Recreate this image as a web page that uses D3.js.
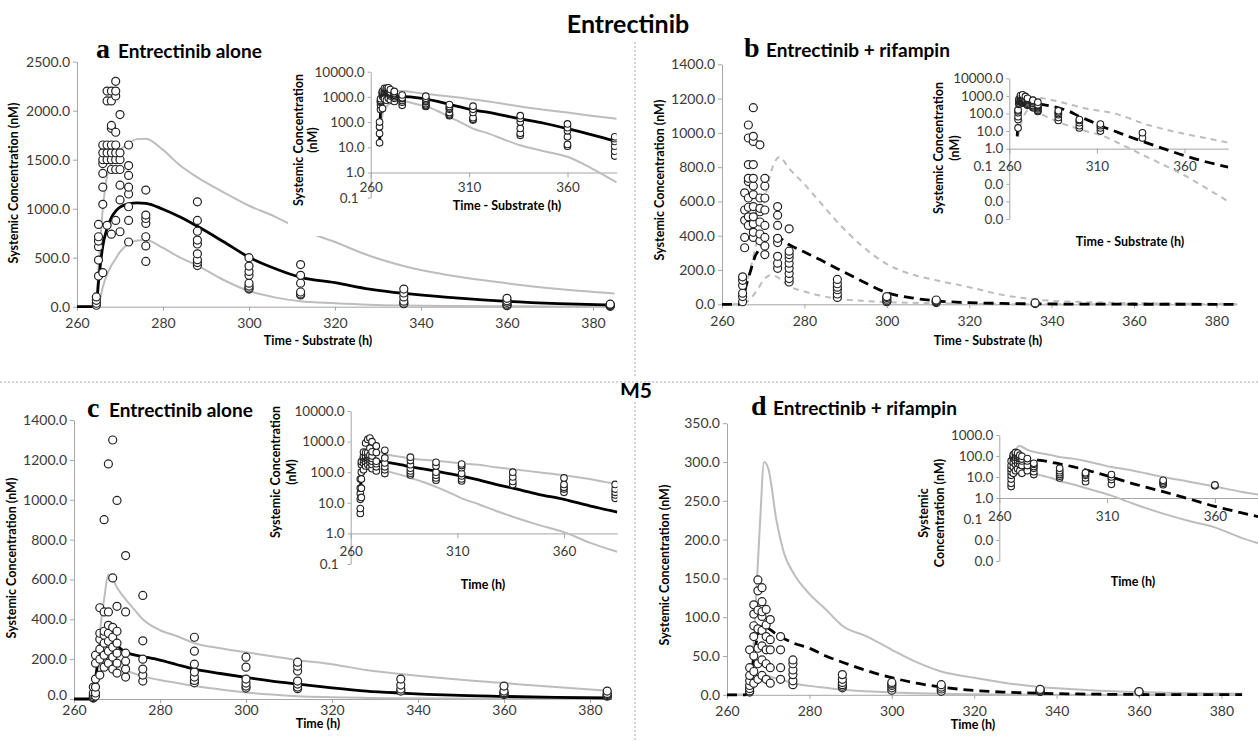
<!DOCTYPE html>
<html><head><meta charset="utf-8">
<script src="https://cdn.jsdelivr.net/npm/d3@7"></script>
<style>
body{margin:0;background:#fff}
text{font-family:Lato,"Open Sans",sans-serif}
</style></head><body>
<script>
// model time grid (h)
var modelTime = [260,264,264.5,265,266,267,268,269,270,272,274,276,280,284,288,294,300,306,312,320,328,336,348,360,372,385];

// a: entrectinib alone
var aCentral = [0,0,20,250,620,800,910,975,1015,1050,1060,1055,995,915,820,665,505,390,300,245,180,135,90,55,32,17];
var aUpper   = [0,0,60,400,1000,1330,1480,1560,1600,1670,1710,1715,1600,1440,1320,1170,1030,920,790,660,520,415,310,239,180,135];
var aLower   = [0,0,0,20,200,330,420,490,560,640,675,680,600,500,420,275,160,95,55,35,20,12,7,4.2,1.5,0.4];
var aObsTime = [264.5,265,266,267,268,269,270,272,276,288,300,312,336,360,384];
var aObsConc = [[15,35,65,100],[313,476,612,670,714,840],[347,1045,1220,1360,1460,1500,1570,1650],
  [830,1500,1570,1650,2100,2200],[740,1400,1500,1570,1650,1820,1850,2100,2200],[880,1400,1500,1570,1650,1780,2150,2200,2300],
  [765,1090,1240,1400,1500,1570,1960],[660,880,1020,1150,1220,1340,1440,1650],[462,620,714,850,900,935,1190],
  [420,450,480,540,640,680,770,880,1070],[180,190,210,240,320,360,415,500],[120,130,150,240,320,430],
  [30,36,56,100,140,180],[11,13,26,45,60,85],[4.5,7,11,17,22,26]];

// b: entrectinib + rifampin
var bCentral = [0,0,5,30,120,200,278,320,356,390,385,352,305,258,208,135,68,38,20,10,5,2.6,1.0,0.4,0.18,0.09];
var bUpper   = [0,0,15,60,130,215,320,420,560,780,860,800,700,590,480,340,235,175,140,100,55,28,13,7,4,2.2];
var bLower   = [0,0,0,5,15,35,65,100,140,170,150,110,75,50,32,20,13,8.5,6,2.7,1.1,0.45,0.12,0.03,0.006,0.001];
var bObsTime = [265,265.5,266.4,267.6,269.2,270.4,273.5,276.3,288,300,312,336];
var bObsConc = [[15,45,65,110,140,160],[330,390,490,550,650],[460,510,566,620,716,735,815,970,1046],
  [390,420,470,510,570,640,690,735,815,950,980,1147],[370,410,480,540,560,620,930],[290,340,390,460,550,620,690,735],
  [210,240,280,360,385,460,520,570],[130,150,180,210,240,270,290,310,440],[40,60,85,100,120,145],
  [15,20,30,40,45],[10,15,20,25],[4,8]];

// c: M5, entrectinib alone
var cCentral = [0,0,20,100,250,320,330,300,270,235,222,213,195,172,150,128,108,90,75,56,40,30,19,13,8,5];
var cUpper   = [0,0,0,60,330,500,625,600,560,500,450,400,345,315,280,255,235,215,195,175,145,125,100,80,60,40];
var cLower   = [0,0,0,30,120,190,210,190,170,145,128,115,95,80,65,48,33,22,14,9,5.5,3.5,1.9,1.1,0.5,0.25];
var cObsTime = [264.5,265,266,267,268,269,270,272,276,288,300,312,336,360,384];
var cObsConc = [[4.5,6.5,13,20,30,60],[15,30,60,100,180,220],[120,200,250,300,330,458],[160,220,280,320,340,437,900],
  [180,240,290,330,370,437,1180],[150,210,260,310,360,608,1300],[130,180,230,280,340,465,997],[110,150,190,230,437,720],
  [90,120,150,200,292,520],[81,93,110,135,175,240,310],[55,65,80,100,160,210],[52,60,75,90,140,165,185],
  [40,50,70,100],[22,28,32,40,65],[14,18,22,28,40]];

// d: M5, entrectinib + rifampin
var dCentral = [0,0,0,5,30,65,85,90,86,78,72,67,60,50,42,31,22,15,10,5.5,3.3,2,0.9,0.4,0.2,0.1];
var dUpper   = [0,0,0,0,30,120,220,300,292,225,180,158,130,110,89,75,58,42,30,22,15,10,6,3.5,2,1.2];
var dLower   = [0,0,0,0,5,15,22,25,24,21,18,15,11.5,9,6.5,4.5,3,2,1.3,0.65,0.33,0.18,0.08,0.04,0.013,0.005];
var dObsTime = [265.5,266.5,267.5,268.5,269.5,270.5,273,276,288,300,312,336,360];
var dObsConc = [[3.5,5,8,12,18,25,35,58],[15,30,50,75,89,104,116],[20,40,60,85,109,134,148],[25,45,63,83,101,107,120,138],
  [20,40,58,75,90,110],[15,35,58,71,97],[20,35,58,75],[13,18,26,32,40,45],[9,11,13,16,20,26],[6,9,12,14,16],
  [4.5,7.5,10,13],[4.3,5,6,7],[3.8,4.2]];

// tick values
var xTicks = [260,280,300,320,340,360,380];
var insetXTicks = [260,310,360];
var aYTicks = [0,500,1000,1500,2000,2500];
var bYTicks = [0,200,400,600,800,1000,1200,1400];
var cYTicks = [0,200,400,600,800,1000,1200,1400];
var dYTicks = [0,50,100,150,200,250,300,350];
var logTicks4 = [0.1,1,10,100,1000,10000];
var logTicksB = [0.0001,0.001,0.01,0.1,1,10,100,1000,10000];
var logTicksD = [0.001,0.01,0.1,1,10,100,1000];

var W = 1258, H = 741;
var svg = d3.select('body').append('svg').attr('width', W).attr('height', H);
var gray = '#bdbdbd', axisCol = '#a6a6a6', tickTxt = '#3a3a3a';

function series(vals){ return modelTime.map(function(t,i){ return {t:t, v:vals[i]}; }); }
function points(times, concs){
  var out = [];
  times.forEach(function(t,i){ concs[i].forEach(function(c){ out.push({t:t, v:c}); }); });
  return out;
}

// separators
svg.append('line').attr('x1',0).attr('x2',W).attr('y1',382).attr('y2',382)
  .attr('stroke','#aaa').attr('stroke-dasharray','2,2');
svg.append('line').attr('x1',635).attr('x2',635).attr('y1',42).attr('y2',378)
  .attr('stroke','#aaa').attr('stroke-dasharray','2,2');
svg.append('line').attr('x1',635).attr('x2',635).attr('y1',402).attr('y2',H)
  .attr('stroke','#aaa').attr('stroke-dasharray','2,2');

svg.append('text').attr('x',628).attr('y',33).attr('text-anchor','middle')
  .attr('font-size',25).attr('font-weight',700).text('Entrectinib');
svg.append('text').attr('x',636).attr('y',398).attr('text-anchor','middle')
  .attr('font-size',21).attr('font-weight',700).text('M5');

function styleAxis(g, fs){
  g.select('.domain').attr('stroke', axisCol);
  g.selectAll('.tick line').attr('stroke', axisCol);
  g.selectAll('.tick text').attr('fill', tickTxt).attr('font-size', fs).attr('font-family','Lato');
}

function drawLines(g, p, x, y, filt){
  var line = d3.line().x(function(d){ return x(d.t); }).y(function(d){ return y(d.v); })
    .curve(d3.curveMonotoneX);
  var sets = [[p.upper, gray, 2, p.grayDash], [p.lower, gray, 2, p.grayDash], [p.central, '#000', 2.8, p.dash]];
  sets.forEach(function(s){
    var data = series(s[0]);
    if (filt) data = data.filter(function(d){ return d.v > 0; });
    g.append('path').attr('d', line(data)).attr('fill','none')
      .attr('stroke', s[1]).attr('stroke-width', s[2])
      .attr('stroke-dasharray', s[3] ? (s[1] === '#000' ? '10,6' : '6,5') : null);
  });
}

function drawMain(p){
  var m = p.main;
  var x = d3.scaleLinear().domain([260,385]).range([m.x0, m.x1]);
  var y = d3.scaleLinear().domain([0, m.yMax]).range([m.y0, m.y1]);
  var g = svg.append('g');
  g.append('g').attr('transform','translate(0,'+m.y0+')')
    .call(d3.axisBottom(x).tickValues(xTicks).tickSize(4).tickSizeOuter(0).tickPadding(m.xPad).tickFormat(d3.format('d')))
    .call(function(a){ styleAxis(a, 14); });
  g.append('g').attr('transform','translate('+m.x0+',0)')
    .call(d3.axisLeft(y).tickValues(m.yTicks).tickSize(4).tickSizeOuter(0).tickPadding(3).tickFormat(function(d){ return d.toFixed(1); }))
    .call(function(a){ styleAxis(a, 14); })
    .call(function(a){ a.selectAll('.tick text').filter(function(d){ return d === 0; }).attr('dy', m.zeroDy); });
  drawLines(g, p, x, y, false);
  g.selectAll('circle').data(points(p.obsT, p.obsC)).enter().append('circle')
    .attr('cx', function(d){ return x(d.t); }).attr('cy', function(d){ return y(d.v); })
    .attr('r', 4).attr('fill','#fff').attr('stroke','#222').attr('stroke-width',1.2);
  g.append('text').attr('x', m.xtX).attr('y', m.xtY).attr('text-anchor','middle')
    .attr('font-size',12.5).attr('font-weight',700).text(m.xTitle);
  g.append('text').attr('transform','translate('+m.ytX+','+m.ytY+') rotate(-90)').attr('text-anchor','middle')
    .attr('font-size',12.5).attr('font-weight',700).text('Systemic Concentration (nM)');
  // panel heading
  g.append('text').attr('x', m.hX).attr('y', m.hY)
    .attr('font-size',28).attr('font-weight',700).style('font-family','"Liberation Serif",serif').text(p.id);
  g.append('text').attr('x', m.hX + 22).attr('y', m.hY).attr('font-size',19).attr('font-weight',700).text(p.heading);
}

function drawInset(p){
  var s = p.inset;
  svg.append('rect').attr('x', s.bx).attr('y', s.by).attr('width', s.bw).attr('height', s.bh).attr('fill','#fff');
  var x = d3.scaleLinear().domain([260,385]).range([s.x0, s.x1]);
  var y = d3.scaleLog().domain([s.yMin, s.yMax]).range([s.y0, s.y1]);
  var g = svg.append('g');
  var clipId = 'clip' + p.id;
  g.append('clipPath').attr('id', clipId).append('rect')
    .attr('x', s.x0).attr('y', s.y1 - 4).attr('width', s.x1 - s.x0).attr('height', s.y0 - s.y1 + 4);
  g.append('g').attr('transform','translate('+s.x0+',0)')
    .call(d3.axisLeft(y).tickValues(s.ticks).tickSize(3).tickSizeOuter(0).tickPadding(3).tickFormat(function(d){ return d.toFixed(1); }))
    .call(function(a){ styleAxis(a, 13.5); })
    .call(function(a){ a.selectAll('.tick text').filter(function(d){ return d === 0.1; }).attr('dx', s.tenthDx); });
  g.append('g').attr('transform','translate(0,'+y(1)+')')
    .call(d3.axisBottom(x).tickValues(insetXTicks).tickSize(5).tickSizeOuter(0).tickPadding(s.xPad).tickFormat(d3.format('d')))
    .call(function(a){ styleAxis(a, 13.5); });
  var pg = g.append('g').attr('clip-path','url(#'+clipId+')');
  drawLines(pg, p, x, y, true);
  pg.selectAll('circle').data(points(p.obsT, p.obsC)).enter().append('circle')
    .attr('cx', function(d){ return x(d.t); }).attr('cy', function(d){ return y(d.v); })
    .attr('r', 3.3).attr('fill','#fff').attr('stroke','#222').attr('stroke-width',1.1);
  g.append('text').attr('x', s.xtX).attr('y', s.xtY).attr('text-anchor','middle')
    .attr('font-size',12.5).attr('font-weight',700).text(s.xTitle);
  s.yTitle.forEach(function(t, i){
    g.append('text').attr('transform','translate('+s.ytX[i]+','+s.ytY+') rotate(-90)').attr('text-anchor','middle')
      .attr('font-size',12.5).attr('font-weight',700).text(t);
  });
}

var panels = [
  {id:'a', heading:'Entrectinib alone', central:aCentral, upper:aUpper, lower:aLower, obsT:aObsTime, obsC:aObsConc,
   dash:false, grayDash:false,
   main:{x0:77, x1:614.5, y0:306.7, y1:61.7, yMax:2500, yTicks:aYTicks, xPad:7, zeroDy:'0.32em', xTitle:'Time - Substrate (h)',
         xtX:318, xtY:345, ytX:18, ytY:183, hX:96, hY:58},
   inset:{bx:288, by:55, bw:342, bh:181, x0:370.7, x1:616.7, y0:197.7, y1:71.7, yMin:0.1, yMax:10000, ticks:logTicks4, xPad:5, tenthDx:-6,
          xTitle:'Time - Substrate (h)', xtX:507, xtY:210, yTitle:['Systemic Concentration','(nM)'], ytX:[303,317], ytY:140}},
  {id:'b', heading:'Entrectinib + rifampin', central:bCentral, upper:bUpper, lower:bLower, obsT:bObsTime, obsC:bObsConc,
   dash:true, grayDash:true,
   main:{x0:722, x1:1237, y0:304.3, y1:64.3, yMax:1400, yTicks:bYTicks, xPad:8, zeroDy:'0.32em', xTitle:'Time - Substrate (h)',
         xtX:988, xtY:345, ytX:664, ytY:180, hX:744, hY:57},
   inset:{bx:930, by:60, bw:328, bh:195, x0:1009.3, x1:1228.3, y0:219, y1:78.3, yMin:0.0001, yMax:10000, ticks:logTicksB, xPad:8, tenthDx:-11,
          xTitle:'Time - Substrate (h)', xtX:1130, xtY:246, yTitle:['Systemic Concentration','(nM)'], ytX:[943,959], ytY:148}},
  {id:'c', heading:'Entrectinib alone', central:cCentral, upper:cUpper, lower:cLower, obsT:cObsTime, obsC:cObsConc,
   dash:false, grayDash:false,
   main:{x0:74, x1:611.5, y0:699, y1:420.1, yMax:1400, yTicks:cYTicks, xPad:2, zeroDy:'0.05em', xTitle:'Time (h)',
         xtX:318, xtY:728, ytX:16, ytY:558, hX:87, hY:417},
   inset:{bx:265, by:395, bw:365, bh:202, x0:350.7, x1:617.3, y0:564, y1:411, yMin:0.1, yMax:10000, ticks:logTicks4, xPad:8, tenthDx:-6,
          xTitle:'Time (h)', xtX:483, xtY:589, yTitle:['Systemic Concentration','(nM)'], ytX:[280,296], ytY:472}},
  {id:'d', heading:'Entrectinib + rifampin', central:dCentral, upper:dUpper, lower:dLower, obsT:dObsTime, obsC:dObsConc,
   dash:true, grayDash:false,
   main:{x0:727, x1:1242, y0:694.8, y1:423.2, yMax:350, yTicks:dYTicks, xPad:7, zeroDy:'0.32em', xTitle:'Time (h)',
         xtX:973, xtY:729, ytX:669, ytY:565, hX:751, hY:415},
   inset:{bx:915, by:420, bw:343, bh:175, x0:999.3, x1:1268.8, y0:561, y1:435, yMin:0.001, yMax:1000, ticks:logTicksD, xPad:8, tenthDx:-11,
          xTitle:'Time (h)', xtX:1133, xtY:586, yTitle:['Systemic','Concentration (nM)'], ytX:[928,944], ytY:513}}
];

panels.forEach(function(p){ drawMain(p); drawInset(p); });
</script>
</body></html>
